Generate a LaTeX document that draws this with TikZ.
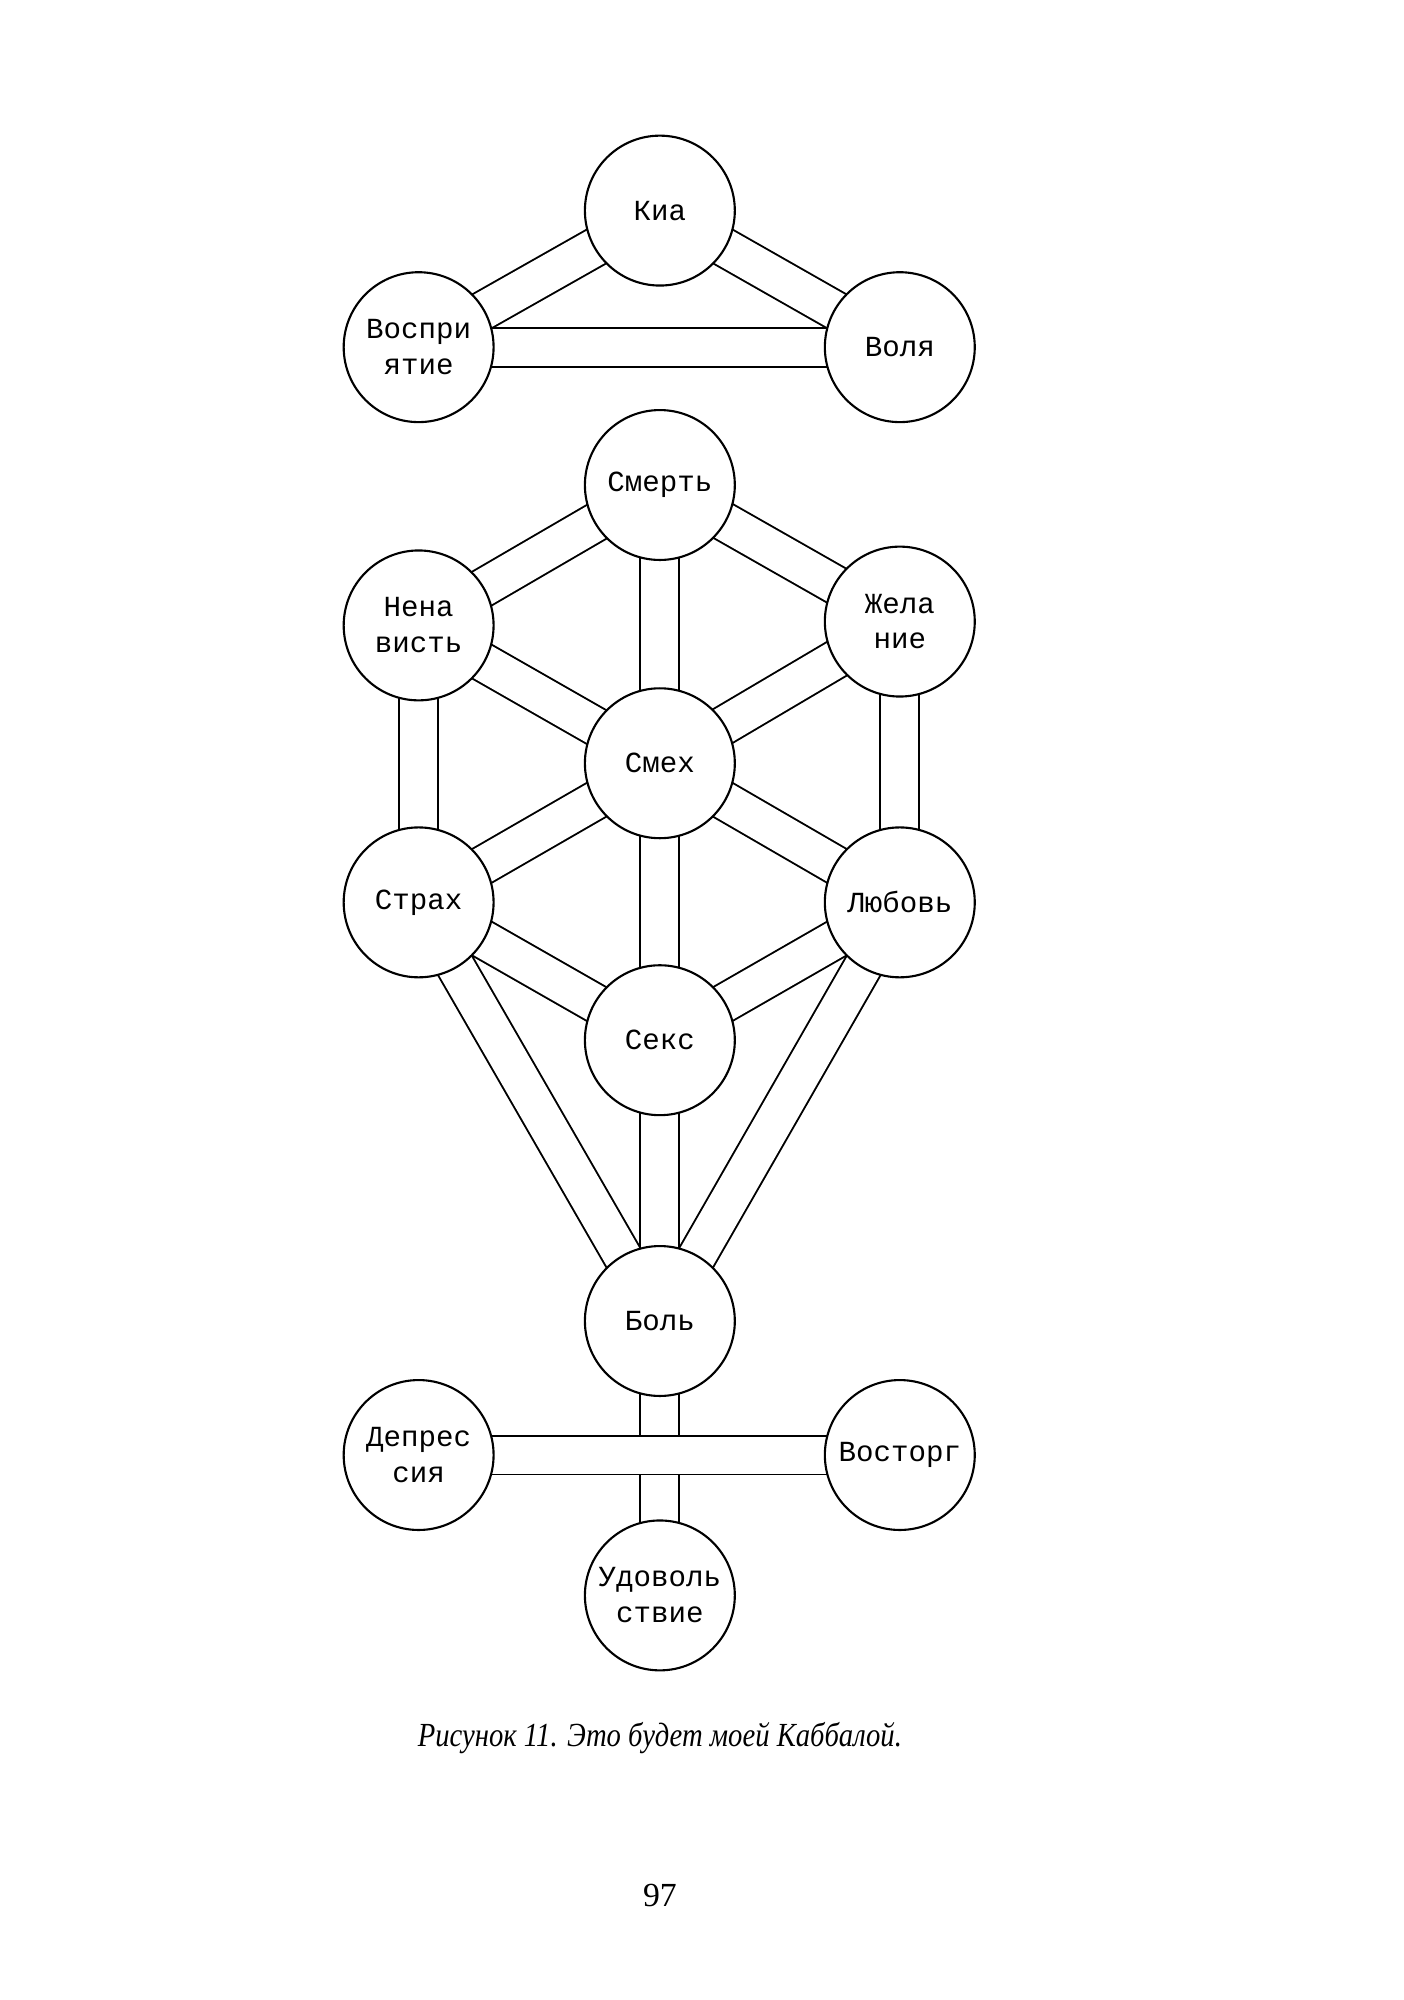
\documentclass[tikz,border=0pt]{standalone}
\usepackage{fontspec}
\setmainfont{Liberation Serif}
\newfontfamily\sefirafont{Liberation Mono}
\newfontfamily\captionfont{Liberation Serif}[FakeStretch=0.85]
\usetikzlibrary{backgrounds}

\tikzset{
  sefira/.style={circle,draw,fill=white,line width=0.6pt,minimum size=1.5cm,
    inner sep=0pt,align=center,font=\fontsize{8.3}{10.2}\sefirafont},
  channel/.style={line width=0.55pt,double=white,double distance=0.37cm},
}

\begin{document}
\begin{tikzpicture}[x=0.012764cm,y=-0.012764cm]
  \useasboundingbox (0,0) rectangle (1100,1567);
  % upper triangle
  \node[sefira] (kia)   at (517,165)  {Киа};
  \node[sefira] (vospr) at (328,272)  {Воспри\\ятие};
  \node[sefira] (volya) at (705,272)  {Воля};
  % the tree
  \node[sefira] (smert) at (517,380)  {Смерть};
  \node[sefira] (nenav) at (328,490)  {Нена\\висть};
  \node[sefira] (zhel)  at (705,487)  {Жела\\ние};
  \node[sefira] (smeh)  at (517,598)  {Смех};
  \node[sefira] (strah) at (328,707)  {Страх};
  \node[sefira] (lyub)  at (705,707)  {Любовь};
  \node[sefira] (seks)  at (517,815)  {Секс};
  \node[sefira] (bol)   at (517,1035) {Боль};
  % lower cross
  \node[sefira] (depr)  at (328,1140) {Депрес\\сия};
  \node[sefira] (vost)  at (705,1140) {Восторг};
  \node[sefira] (udov)  at (517,1250) {Удоволь\\ствие};

  \begin{scope}[on background layer]
    \foreach \a/\b in {kia/vospr,kia/volya,vospr/volya,
        smert/nenav,smert/zhel,smert/smeh,nenav/smeh,zhel/smeh,
        nenav/strah,zhel/lyub,smeh/strah,smeh/lyub,smeh/seks,
        strah/seks,lyub/seks,strah/bol,lyub/bol,seks/bol,
        bol/udov,depr/vost}
      \draw[channel] (\a.center) -- (\b.center);
  \end{scope}

  \node[font=\fontsize{9.6}{11}\captionfont\itshape] (caption) at (517,1362)
    {Рисунок 11. Это будет моей Каббалой.};
  \node[font=\fontsize{9.6}{11}\selectfont] (pagenum) at (517,1485) {97};
\end{tikzpicture}
\end{document}
